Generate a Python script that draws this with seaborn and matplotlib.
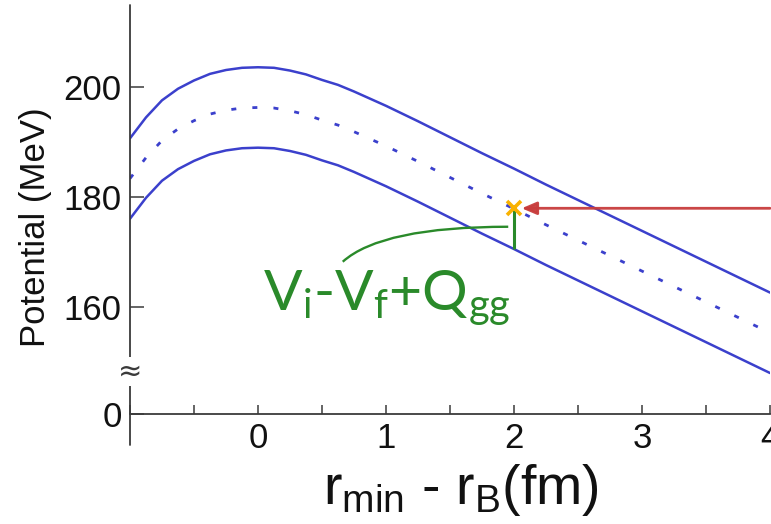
import matplotlib
matplotlib.use("Agg")
import matplotlib.pyplot as plt
from matplotlib.path import Path
from matplotlib.patches import PathPatch
from matplotlib.ticker import FixedLocator, MultipleLocator
import pandas as pd
import seaborn as sns

# ---------------- data ----------------
r_sep = [-1.0, -0.875, -0.75, -0.625, -0.5, -0.375, -0.25, -0.125, 0.0, 0.125, 0.25,
         0.375, 0.5, 0.625, 0.75, 0.875, 1.0, 1.25, 1.5, 1.75, 2.0, 2.25, 2.5, 2.75,
         3.0, 3.25, 3.5, 3.75, 4.0]
v_upper = [190.6, 194.4, 197.5, 199.6, 201.1, 202.3, 203.0, 203.4, 203.5, 203.4, 202.9,
           202.2, 201.2, 200.3, 199.1, 197.8, 196.5, 193.7, 190.8, 187.9, 185.1, 182.2,
           179.4, 176.6, 173.8, 171.0, 168.2, 165.4, 162.6]
v_middle = [183.3, 187.1, 190.2, 192.3, 193.8, 195.0, 195.7, 196.1, 196.2, 196.1, 195.6,
            194.9, 193.9, 193.0, 191.8, 190.5, 189.2, 186.4, 183.5, 180.6, 177.8, 174.9,
            172.1, 169.3, 166.5, 163.7, 160.9, 158.1, 155.3]
v_lower = [176.0, 179.8, 182.9, 185.0, 186.5, 187.7, 188.4, 188.8, 188.9, 188.8, 188.3,
           187.6, 186.6, 185.7, 184.5, 183.2, 181.9, 179.1, 176.2, 173.3, 170.5, 167.6,
           164.8, 162.0, 159.2, 156.4, 153.6, 150.8, 148.0]

x_major_ticks = [0, 1, 2, 3, 4]
y_floor = 140.56           # value shown as "0" after the axis break
y_break = 148.3            # position of the break sign
y_tick_values = [y_floor, 160, 180, 200]
y_tick_labels = ["0", "160", "180", "200"]
x_limits = (-1.0, 4.0)
y_limits = (y_floor, 214.8)

marker_x, marker_y = 2.0, 178.0        # crossing point (orange x)
arrow_y, arrow_tip_x = 177.9, 2.06     # incoming energy arrow
link_start = (1.955, 174.55)           # green connector (quadratic curve)
link_ctrl = (0.966, 174.55)
link_end = (0.662, 168.2)
label_pos = (0.04, 159.4)

BLUE = "#3b40cc"
GREEN = "#2a8a2a"
RED = "#c83c3c"
ORANGE = "#f9b200"
AXC = "#3a3a3a"

# ---------------- figure ----------------
sns.set_theme(style="white")
plt.rcParams["font.family"] = ["Liberation Sans", "DejaVu Sans"]
plt.rcParams["lines.solid_joinstyle"] = "round"

fig = plt.figure(figsize=(7.71, 5.24), dpi=100)
ax = fig.add_axes([130 / 771, 110 / 524, 640 / 771, 409 / 524])

df = pd.DataFrame({"r": r_sep, "upper": v_upper, "middle": v_middle, "lower": v_lower})
sns.lineplot(data=df, x="r", y="upper", ax=ax, color=BLUE, linewidth=1.8)
sns.lineplot(data=df, x="r", y="lower", ax=ax, color=BLUE, linewidth=1.8)
sns.lineplot(data=df, x="r", y="middle", ax=ax, color=BLUE, linewidth=2.0)
ax.lines[-1].set_dashes([1.8, 5.8])

# green vertical bar between the cross and the lower curve
lower_at_marker = v_lower[r_sep.index(marker_x)]
ax.plot([marker_x, marker_x], [marker_y, lower_at_marker], color=GREEN, lw=2.2,
        solid_capstyle="butt", zorder=3)

# green curved connector
path = Path([link_start, link_ctrl, link_end], [Path.MOVETO, Path.CURVE3, Path.CURVE3])
ax.add_patch(PathPatch(path, facecolor="none", edgecolor=GREEN, lw=1.7, zorder=3))

# red arrow
ax.annotate("", xy=(arrow_tip_x, arrow_y), xytext=(x_limits[1], arrow_y),
            arrowprops=dict(arrowstyle="-|>,head_length=0.75,head_width=0.32",
                            color=RED, lw=2.0, shrinkA=0, shrinkB=0, alpha=0.95),
            annotation_clip=False, zorder=4)

# orange cross
ax.plot([marker_x], [marker_y], marker="x", markersize=10, markeredgewidth=2.6,
        color=ORANGE, zorder=5)

# label
ax.text(label_pos[0], label_pos[1],
        r"$\mathregular{V_i}$-$\mathregular{V_f}$+$\mathregular{Q_{gg}}$",
        color=GREEN, fontsize=41, ha="left", va="baseline",
        family=["Lato", "DejaVu Sans"])

# axes
ax.set_xlim(*x_limits)
ax.set_ylim(*y_limits)
ax.xaxis.set_major_locator(FixedLocator(x_major_ticks))
ax.xaxis.set_minor_locator(MultipleLocator(0.5))
ax.yaxis.set_major_locator(FixedLocator(y_tick_values))
ax.set_yticklabels(y_tick_labels)
ax.tick_params(axis="x", which="both", direction="in", length=6.5, width=1.1,
               color=AXC, labelsize=25, pad=6, labelcolor="#111111", bottom=True)
ax.tick_params(axis="y", which="major", direction="in", length=10, width=1.1,
               color=AXC, labelsize=25, pad=6, labelcolor="#111111", left=True)

for s in ["top", "right", "left"]:
    ax.spines[s].set_visible(False)
ax.spines["bottom"].set_color(AXC)
ax.spines["bottom"].set_linewidth(1.3)
ax.plot([0, 0], [-31 / 409, 1.0], transform=ax.transAxes, color=AXC, lw=1.3,
        clip_on=False, zorder=2.5)

ax.text(-1.0, y_break, "\u2248", ha="center", va="center", fontsize=21, color=AXC,
        bbox=dict(facecolor="white", edgecolor="none", pad=0.5), zorder=6,
        clip_on=False, family=["DejaVu Sans"])

ax.set_xlabel(r"$\mathregular{r_{min}}$ - $\mathregular{r_B}$(fm)", fontsize=40,
              color="#111111", labelpad=5)
ax.xaxis.label.set_x(0.517)
ax.set_ylabel("Potential (MeV)", fontsize=25, color="#111111")
ax.yaxis.set_label_coords(-0.122, 0.457)

fig.savefig("out.png", dpi=100)
